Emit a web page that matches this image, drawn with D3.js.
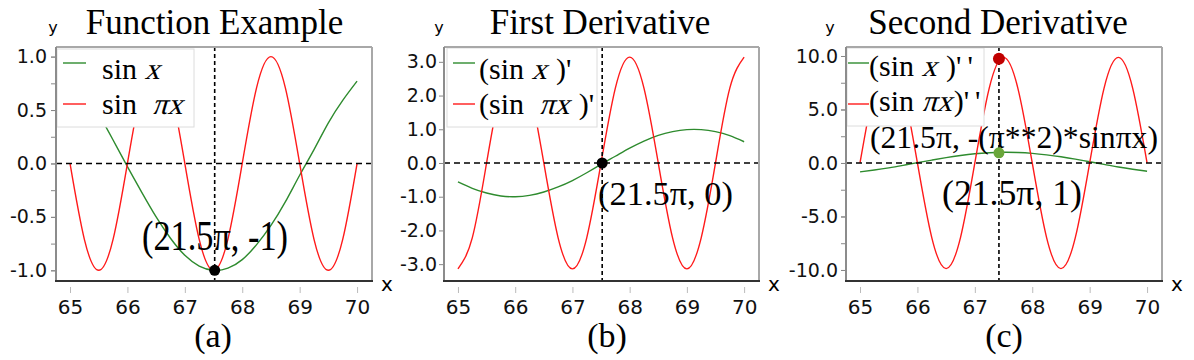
<!DOCTYPE html>
<html>
<head>
<meta charset="utf-8">
<script src="https://cdn.jsdelivr.net/npm/d3@7/dist/d3.min.js"></script>
<style>
body { margin: 0; background: #fff; }
</style>
</head>
<body>
<script>
// values, x = 65 .. 70 every 0.25
var xs = [65, 65.25, 65.5, 65.75, 66, 66.25, 66.5, 66.75, 67, 67.25, 67.5,
          67.75, 68, 68.25, 68.5, 68.75, 69, 69.25, 69.5, 69.75, 70];

var sinX     = [0.83, 0.66, 0.46, 0.22, -0.03, -0.27, -0.50, -0.70, -0.86, -0.96, -1.00,
                -0.98, -0.90, -0.76, -0.58, -0.36, -0.11, 0.13, 0.38, 0.59, 0.77];
var sinPiX   = [0, -0.71, -1, -0.71, 0, 0.71, 1, 0.71, 0, -0.71, -1,
                -0.71, 0, 0.71, 1, 0.71, 0, -0.71, -1, -0.71, 0];
var dSinX    = [-0.56, -0.75, -0.89, -0.98, -1.00, -0.96, -0.86, -0.71, -0.52, -0.29, -0.04,
                0.20, 0.44, 0.65, 0.82, 0.93, 0.99, 0.99, 0.93, 0.81, 0.63];
var dSinPiX  = [-3.14, -2.22, 0, 2.22, 3.14, 2.22, 0, -2.22, -3.14, -2.22, 0,
                2.22, 3.14, 2.22, 0, -2.22, -3.14, -2.22, 0, 2.22, 3.14];
var ddSinX   = [-0.83, -0.66, -0.46, -0.22, 0.03, 0.27, 0.50, 0.70, 0.86, 0.96, 1.00,
                0.98, 0.90, 0.76, 0.58, 0.36, 0.11, -0.13, -0.38, -0.59, -0.77];
var ddSinPiX = [0, 6.98, 9.87, 6.98, 0, -6.98, -9.87, -6.98, 0, 6.98, 9.87,
                6.98, 0, -6.98, -9.87, -6.98, 0, 6.98, 9.87, 6.98, 0];

var xTicks = [65, 66, 67, 68, 69, 70];
var yTicksA = [-1, -0.5, 0, 0.5, 1];
var yMinorA = [-1, -0.75, -0.5, -0.25, 0, 0.25, 0.5, 0.75, 1];
var yTicksB = [-3, -2, -1, 0, 1, 2, 3];
var yTicksC = [-10, -5, 0, 5, 10];
var yMinorC = [-10, -7.5, -5, -2.5, 0, 2.5, 5, 7.5, 10];

var titles = ["Function Example", "First Derivative", "Second Derivative"];
var subLabels = ["(a)", "(b)", "(c)"];

// legend labels: [text, italic?] pieces
var legendA = [[["sin ", false], ["x", true]], [["sin  ", false], ["\u03c0x", true]]];
var legendB = [[["(sin ", false], ["x", true], [" )'", false]], [["(sin  ", false], ["\u03c0x", true], [" )'", false]]];
var legendC = [[["(sin ", false], ["x", true], [" )'\u2009'", false]], [["(sin ", false], ["\u03c0x", true], [")'\u2009'", false]]];

// marked points
var markA = [[67.52, -1]];
var markB = [[67.52, 0]];
var markC = [[67.42, 9.75], [67.42, 0.95]];

var noteA = ["(21.5\u03c0, -1)"];
var noteB = ["(21.5\u03c0, 0)"];
var noteC = ["(21.5\u03c0, -(\u03c0**2)*sin\u03c0x)", "(21.5\u03c0, 1)"];

var GREEN = "#2e8b2e", RED = "#ff1a1a";
var serif = "'Liberation Serif', 'Times New Roman', serif";
var sans = "'DejaVu Sans', Verdana, sans-serif";

var svg = d3.select("body").append("svg").attr("width", 1194).attr("height", 360)
    .style("display", "block").style("background", "#fff");

// serif text with slanted pieces; slant is done by hand so the roman face is kept
function richText(g, pieces, x0, y0, size) {
    var cx = x0;
    pieces.forEach(function (piece) {
        var t = g.append("text")
            .attr("transform", "translate(" + cx + "," + y0 + ")" + (piece[1] ? " skewX(-16)" : ""))
            .attr("xml:space", "preserve")
            .style("white-space", "pre")
            .style("font-family", serif)
            .style("font-size", size + "px")
            .text(piece[0]);
        cx += t.node().getComputedTextLength() + (piece[1] ? 2 : 0);
    });
}

function drawPanel(p) {
    var x = d3.scaleLinear().domain([64.756, 70.26]).range([p.left, p.right]);
    var y = d3.scaleLinear().domain(p.yDomain).range([p.bottom, p.top]);
    var g = svg.append("g");

    var line = d3.line()
        .x(function (d) { return x(d[0]); })
        .y(function (d) { return y(d[1]); })
        .curve(d3.curveNatural);

    // curves
    for (var s = 0; s < p.series.length; s++) {
        var pts = xs.map(function (v, i) { return [v, p.series[s].values[i]]; });
        g.append("path")
            .attr("d", line(pts))
            .attr("fill", "none")
            .attr("stroke", p.series[s].color)
            .attr("stroke-width", 1.4);
    }

    // dashed guides
    g.append("line")
        .attr("x1", p.left).attr("x2", p.right)
        .attr("y1", y(0)).attr("y2", y(0))
        .attr("stroke", "#000").attr("stroke-width", 1.6)
        .attr("stroke-dasharray", "6,4");
    g.append("line")
        .attr("x1", x(p.marks[0][0])).attr("x2", x(p.marks[0][0]))
        .attr("y1", p.top).attr("y2", p.bottom)
        .attr("stroke", "#000").attr("stroke-width", 1.6)
        .attr("stroke-dasharray", "4,3");

    // annotations
    for (var n = 0; n < p.notes.length; n++) {
        g.append("text")
            .attr("x", p.notes[n].x).attr("y", p.notes[n].y)
            .attr("textLength", p.notes[n].w)
            .attr("lengthAdjust", "spacingAndGlyphs")
            .style("font-family", serif)
            .style("font-size", p.notes[n].size + "px")
            .text(p.notes[n].text);
    }

    // dots
    for (var m = 0; m < p.marks.length; m++) {
        g.append("circle")
            .attr("cx", x(p.marks[m][0]))
            .attr("cy", y(p.marks[m][1]))
            .attr("r", p.markR[m])
            .attr("fill", p.markColor[m]);
    }

    // legend
    var lg = p.legend;
    g.append("rect")
        .attr("x", lg.x).attr("y", lg.y)
        .attr("width", lg.w).attr("height", lg.h)
        .attr("fill", "#fff").attr("stroke", "#dcdcdc").attr("stroke-width", 1);
    for (var r = 0; r < lg.items.length; r++) {
        g.append("line")
            .attr("x1", lg.lineX[0]).attr("x2", lg.lineX[1])
            .attr("y1", lg.lineY[r]).attr("y2", lg.lineY[r])
            .attr("stroke", p.series[r].color).attr("stroke-width", 1.4);
        richText(g, lg.items[r], lg.textX, lg.textY[r], 30);
    }

    // frame
    g.append("line").attr("x1", p.left).attr("x2", p.right).attr("y1", p.top).attr("y2", p.top)
        .attr("stroke", "#a8a8a8").attr("stroke-width", 2);
    g.append("line").attr("x1", p.right).attr("x2", p.right).attr("y1", p.top).attr("y2", p.bottom)
        .attr("stroke", "#a8a8a8").attr("stroke-width", 2);
    g.append("line").attr("x1", p.left).attr("x2", p.left).attr("y1", p.top).attr("y2", p.bottom)
        .attr("stroke", "#8c8c8c").attr("stroke-width", 2);
    g.append("line").attr("x1", p.left - 1).attr("x2", p.right + 1).attr("y1", p.bottom).attr("y2", p.bottom)
        .attr("stroke", "#333").attr("stroke-width", 2);

    // axes
    if (p.yMinor) {
        g.append("g").attr("transform", "translate(" + (p.left - 1) + ",0)")
            .call(d3.axisLeft(y).tickValues(p.yMinor).tickSize(4).tickFormat(""))
            .call(function (a) { a.select(".domain").remove(); a.selectAll("line").attr("stroke", "#888"); });
    }
    var ya = g.append("g").attr("transform", "translate(" + (p.left - 1) + ",0)")
        .call(d3.axisLeft(y).tickValues(p.yTicks).tickSize(4).tickPadding(p.yPad)
            .tickFormat(function (d) { return d.toFixed(1); }));
    ya.select(".domain").remove();
    ya.selectAll("line").attr("stroke", "#888");
    ya.selectAll("text").style("font-family", sans).style("font-size", "19px").attr("fill", "#111");

    var xa = g.append("g").attr("transform", "translate(0," + (p.bottom + 6) + ")")
        .call(d3.axisBottom(x).tickValues(xTicks).tickSize(6).tickPadding(6.5)
            .tickFormat(d3.format("d")));
    xa.select(".domain").remove();
    xa.selectAll("line").attr("stroke", "#bbb");
    xa.selectAll("text").style("font-family", sans).style("font-size", "20px").attr("fill", "#111");

    // axis names
    g.append("text").attr("x", p.yLabelX).attr("y", 33)
        .attr("text-anchor", "middle")
        .style("font-family", sans).style("font-size", "16px").text("y");
    g.append("text").attr("x", p.right + 15).attr("y", 291)
        .attr("text-anchor", "middle")
        .style("font-family", sans).style("font-size", "20px").text("x");

    // title and sub label
    g.append("text").attr("x", p.titleX).attr("y", 34)
        .attr("text-anchor", "middle")
        .style("font-family", serif).style("font-size", "35px")
        .text(p.title);
    g.append("text").attr("x", p.subX).attr("y", 347)
        .attr("text-anchor", "middle")
        .style("font-family", serif).style("font-size", "34px")
        .text(p.sub);
}

drawPanel({
    left: 56, right: 372, top: 47, bottom: 281,
    yDomain: [-1.1, 1.09], yTicks: yTicksA, yMinor: yMinorA, yPad: 4,
    series: [{ values: sinX, color: GREEN }, { values: sinPiX, color: RED }],
    marks: markA, markR: [5.5], markColor: ["#000"],
    notes: [{ text: noteA[0], x: 142, y: 250, size: 42, w: 146 }],
    legend: { x: 57, y: 49, w: 137, h: 78, items: legendA,
              lineX: [63, 86], lineY: [63, 104], textX: 102, textY: [79, 114] },
    yLabelX: 53, titleX: 214.5, title: titles[0], subX: 213, sub: subLabels[0]
});

drawPanel({
    left: 444, right: 759, top: 47, bottom: 281,
    yDomain: [-3.5, 3.44], yTicks: yTicksB, yMinor: null, yPad: 2,
    series: [{ values: dSinX, color: GREEN }, { values: dSinPiX, color: RED }],
    marks: markB, markR: [5.5], markColor: ["#000"],
    notes: [{ text: noteB[0], x: 598, y: 205, size: 34, w: 135 }],
    legend: { x: 447, y: 48, w: 150, h: 79, items: legendB,
              lineX: [453, 475], lineY: [63, 104], textX: 479, textY: [79, 114] },
    yLabelX: 439, titleX: 600, title: titles[1], subX: 607, sub: subLabels[1]
});

drawPanel({
    left: 846, right: 1162, top: 47, bottom: 281,
    yDomain: [-11.03, 10.84], yTicks: yTicksC, yMinor: yMinorC, yPad: 3,
    series: [{ values: ddSinX, color: GREEN }, { values: ddSinPiX, color: RED }],
    marks: markC, markR: [6, 5.5], markColor: ["#c00000", "#6aa63a"],
    notes: [{ text: noteC[0], x: 870, y: 148, size: 31, w: 288 },
            { text: noteC[1], x: 942, y: 205, size: 35, w: 140 }],
    legend: { x: 847, y: 48, w: 137, h: 78, items: legendC,
              lineX: [848, 869], lineY: [63, 104], textX: 869, textY: [76, 111] },
    yLabelX: 830, titleX: 998, title: titles[2], subX: 1004, sub: subLabels[2]
});
</script>
</body>
</html>
